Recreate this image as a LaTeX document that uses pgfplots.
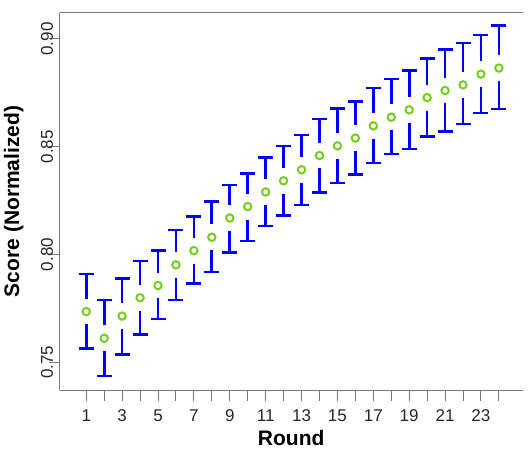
\documentclass[border=0pt]{standalone}
\usepackage{fontspec}
\setmainfont{Liberation Sans}
\usepackage{pgfplots}
\usepackage{pgfplotstable}
\pgfplotsset{compat=1.18}
\definecolor{barblue}{RGB}{0,0,255}
\definecolor{ptgreen}{RGB}{118,205,30}
\definecolor{axgray}{RGB}{120,120,120}
\pgfplotstableread{
n y up lo
1 0.7735 0.7910 0.7563
2 0.7611 0.7789 0.7436
3 0.7714 0.7890 0.7537
4 0.7799 0.7969 0.7627
5 0.7856 0.8020 0.7700
6 0.7952 0.8114 0.7788
7 0.8018 0.8176 0.7865
8 0.8080 0.8246 0.7919
9 0.8169 0.8323 0.8009
10 0.8222 0.8377 0.8063
11 0.8290 0.8450 0.8132
12 0.8342 0.8504 0.8180
13 0.8393 0.8555 0.8230
14 0.8459 0.8628 0.8289
15 0.8504 0.8676 0.8331
16 0.8540 0.8710 0.8370
17 0.8597 0.8772 0.8424
18 0.8637 0.8814 0.8466
19 0.8671 0.8854 0.8489
20 0.8728 0.8911 0.8547
21 0.8761 0.8950 0.8571
22 0.8787 0.8981 0.8605
23 0.8837 0.9019 0.8656
24 0.8865 0.9061 0.8675
}\datatable
\begin{document}
\begin{tikzpicture}
\begin{axis}[
  at={(0,0)}, anchor=origin,
  scale only axis,
  width=462.7bp, height=377.3bp,
  xmin=-0.47, xmax=25.32,
  ymin=0.7371, ymax=0.9122,
  axis lines*=left,
  axis line style={axgray, line width=1bp},
  tick style={axgray, line width=1bp},
  tick align=outside,
  major tick length=11bp,
  xtick={1,...,24},
  xticklabels={1,,3,,5,,7,,9,,11,,13,,15,,17,,19,,21,,23,},
  ytick={0.75,0.80,0.85,0.90},
  yticklabels={0.75,0.80,0.85,0.90},
  ticklabel style={font=\fontsize{17bp}{20bp}\selectfont, text=black!85, inner sep=0pt},
  yticklabel style={rotate=90, anchor=base},
  xticklabel style={anchor=base},
  xticklabel shift=20bp,
  yticklabel shift=-4bp,
  xlabel={Round},
  ylabel={Score (Normalized)},
  label style={font=\bfseries\fontsize{21bp}{24bp}\selectfont, inner sep=0pt},
  xlabel style={at={(axis description cs:0.5,-0.146)}, anchor=base},
  ylabel style={at={(axis description cs:-0.0881,0.5)}, anchor=base, rotate=0},
  clip=false,
]
\addplot[draw=none, mark=none,
  error bars/.cd, y dir=plus, y explicit,
  error bar style={draw=barblue, line width=2.7bp},
  error mark options={rotate=90, draw=barblue, line width=2.7bp, mark size=7.5bp}]
  table[x=n, y expr=\thisrow{y}+0.006, y error expr=\thisrow{up}-\thisrow{y}-0.006] {\datatable};
\addplot[draw=none, mark=none,
  error bars/.cd, y dir=minus, y explicit,
  error bar style={draw=barblue, line width=2.7bp},
  error mark options={rotate=90, draw=barblue, line width=2.7bp, mark size=7.5bp}]
  table[x=n, y expr=\thisrow{y}-0.006, y error expr=\thisrow{y}-0.006-\thisrow{lo}] {\datatable};
\addplot[only marks, mark=o, mark size=3.7bp,
  mark options={draw=ptgreen, line width=2bp}]
  table[x=n, y=y] {\datatable};
\draw[axgray, line width=1bp] (rel axis cs:0,1) -- (rel axis cs:1,1);
\end{axis}
\pgfresetboundingbox
\path[use as bounding box] (-68.3bp,-59bp) rectangle (462.7bp,390bp);
\end{tikzpicture}
\end{document}
